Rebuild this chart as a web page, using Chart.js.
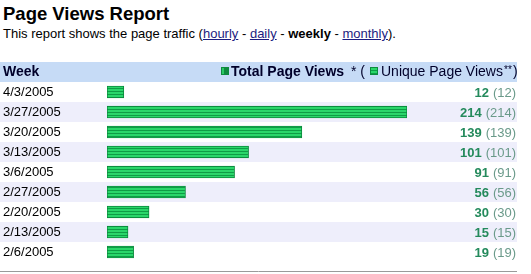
<!DOCTYPE html>
<html lang="en">
<head>
<meta charset="UTF-8">
<title>Page Views Report</title>
<style>
  body { margin: 0; background: #fff; font-family: Arial, "Liberation Sans", sans-serif; }
  .title { position: absolute; left: 3px; top: 3px; font-size: 18.5px; font-weight: bold; color: #000; white-space: nowrap; }
  .sub { position: absolute; left: 3px; top: 26px; font-size: 13px; color: #000; white-space: nowrap; }
  .sub a { color: #1c1c80; }
  #chartWrap { position: absolute; left: 0; top: 56px; width: 531px; height: 218px; }
</style>
</head>
<body>
<div class="title">Page Views Report</div>
<div class="sub">This report shows the page traffic (<a href="#">hourly</a> - <a href="#">daily</a> - <b>weekly</b> - <a href="#">monthly</a>).</div>
<div id="chartWrap"><canvas id="pvChart" width="531" height="218"></canvas></div>

<script src="https://cdn.jsdelivr.net/npm/chart.js"></script>
<script>
// data
const weeks = ['4/3/2005', '3/27/2005', '3/20/2005', '3/13/2005', '3/6/2005',
               '2/27/2005', '2/20/2005', '2/13/2005', '2/6/2005'];
const totalViews = [12, 214, 139, 101, 91, 56, 30, 15, 19];
const uniqueViews = [12, 214, 139, 101, 91, 56, 30, 15, 19];

const FONT = 'Arial, "Liberation Sans", sans-serif';
const ctx = document.getElementById('pvChart');
const c2d = ctx.getContext('2d');

// striped green fill for the bars
function stripes() {
  const c = document.createElement('canvas');
  c.width = 1; c.height = 3;
  const g = c.getContext('2d');
  g.fillStyle = '#2ad66a'; g.fillRect(0, 0, 1, 3);
  g.fillStyle = '#0f9c46'; g.fillRect(0, 2, 1, 1);
  return c2d.createPattern(c, 'repeat');
}
const barFill = stripes();

// table look: header band, row shading, value column, bottom rule
const tablePlugin = {
  id: 'table',
  beforeDraw(chart) {
    const g = chart.ctx;
    const yS = chart.scales.y;
    const rowH = yS.getPixelForValue(1) - yS.getPixelForValue(0);
    g.save();
    g.fillStyle = '#fff';
    g.fillRect(0, 0, chart.width, chart.height);
    g.fillStyle = '#c6dbf6';
    g.fillRect(0, 6, 517, 20);
    g.fillStyle = '#eeeefb';
    weeks.forEach((w, i) => {
      if (i % 2 === 1) g.fillRect(0, yS.getPixelForValue(i) - rowH / 2, 517, rowH);
    });

    // header text
    g.textBaseline = 'alphabetic';
    g.fillStyle = '#00002a';
    g.font = 'bold 14px ' + FONT;
    g.fillText('Week', 3, 20);
    // icon total
    g.fillStyle = '#0e8a3e';
    g.fillRect(221, 11, 8, 8);
    g.fillStyle = '#2bc864';
    g.fillRect(222, 12, 2, 6);
    g.fillStyle = '#00002a';
    g.fillText('Total Page Views', 231, 20);
    g.font = '14px ' + FONT;
    g.fillText('* (', 351, 20);
    // icon unique
    g.fillStyle = barFill;
    g.fillRect(370, 11, 8, 8);
    g.strokeStyle = '#0c8c3e';
    g.strokeRect(370.5, 11.5, 7, 7);
    g.fillStyle = '#00002a';
    g.fillText('Unique Page Views', 381, 20);
    g.font = '10px ' + FONT;
    g.fillText('**', 504, 17);
    g.font = '14px ' + FONT;
    g.fillText(')', 513, 20);
    g.restore();
  },
  afterDraw(chart) {
    const g = chart.ctx;
    const yS = chart.scales.y;
    g.save();
    g.textBaseline = 'alphabetic';
    g.textAlign = 'right';
    totalViews.forEach((v, i) => {
      const y = yS.getPixelForValue(i) + 5;
      const paren = '(' + uniqueViews[i] + ')';
      g.font = '13px ' + FONT;
      g.fillStyle = '#6a9a8a';
      g.fillText(paren, 516, y);
      const w = g.measureText(paren).width;
      g.font = 'bold 13px ' + FONT;
      g.fillStyle = '#248a5c';
      g.fillText(String(v), 516 - w - 4, y);
    });
    g.strokeStyle = '#9a9a9a';
    g.lineWidth = 1;
    g.beginPath();
    g.moveTo(0, 215.5);
    g.lineTo(517, 215.5);
    g.stroke();
    g.restore();
  }
};

const chart = new Chart(ctx, {
  type: 'bar',
  data: {
    labels: weeks,
    datasets: [{
      label: 'Total Page Views',
      data: totalViews,
      backgroundColor: barFill,
      borderColor: '#0a8a3c',
      borderWidth: 1,
      borderSkipped: false,
      barThickness: 12
    }]
  },
  options: {
    indexAxis: 'y',
    responsive: false,
    animation: false,
    devicePixelRatio: 1,
    layout: { padding: { left: 3, right: 124, top: 26, bottom: 12 } },
    scales: {
      x: { display: false, min: 0, max: Math.max(...totalViews) },
      y: {
        grid: { display: false },
        border: { display: false },
        ticks: { color: '#000', font: { size: 13, family: FONT }, crossAlign: 'far', padding: 0 },
        afterFit(scale) { scale.width = 104; }
      }
    },
    plugins: {
      legend: { display: false },
      tooltip: { enabled: false }
    }
  },
  plugins: [tablePlugin]
});
</script>
</body>
</html>
